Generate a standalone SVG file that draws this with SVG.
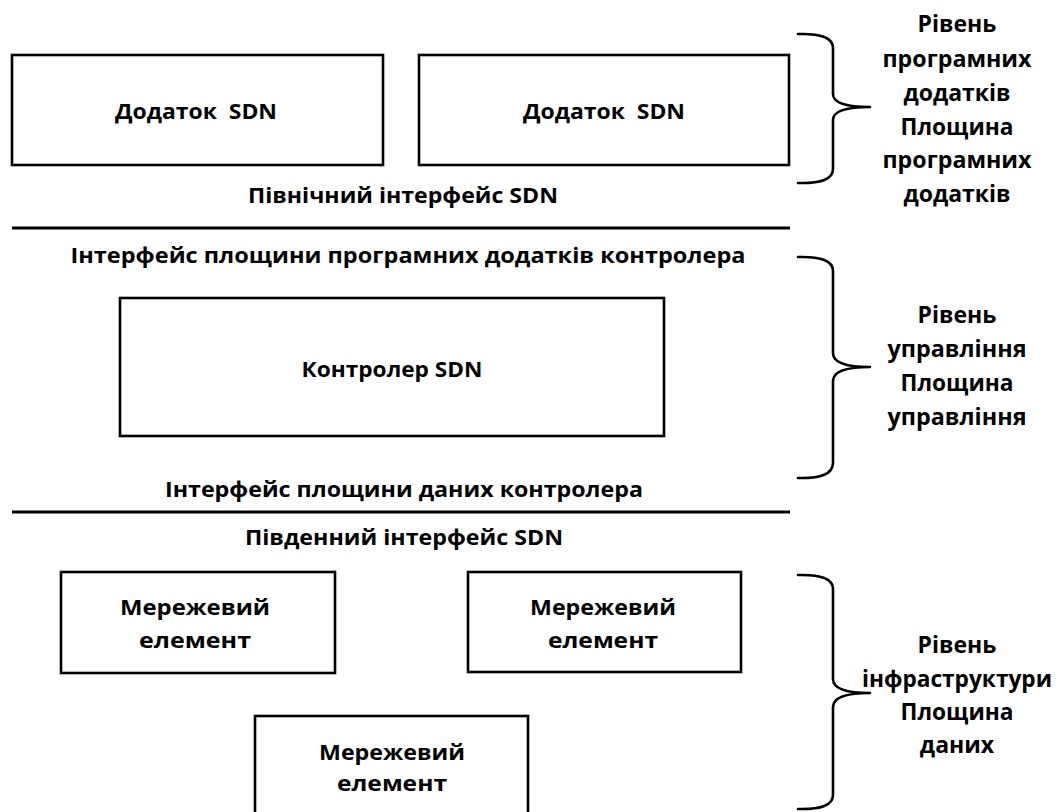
<svg xmlns="http://www.w3.org/2000/svg" width="1062" height="812" viewBox="0 0 1062 812">
<style>
.box{fill:#fff;stroke:#000;stroke-width:2.6}
.sep{stroke:#000;stroke-width:3}
.brace{fill:none;stroke:#000;stroke-width:2.6;stroke-linecap:round;stroke-linejoin:round}
text{font-family:"Open Sans","Noto Sans","Liberation Sans",sans-serif;font-weight:700;font-size:22px;fill:#000}
.c{text-anchor:middle}
.r{font-size:23px}
</style>
<rect width="1062" height="812" fill="#fff"/>
<g id="app1"><rect class="box" x="12" y="55" width="371" height="110"/><text x="196" y="119" class="c" textLength="162" lengthAdjust="spacingAndGlyphs">Додаток&#160; SDN</text></g>
<g id="app2"><rect class="box" x="419" y="55" width="370" height="110"/><text x="604" y="119" class="c" textLength="162" lengthAdjust="spacingAndGlyphs">Додаток&#160; SDN</text></g>
<g id="north"><text x="403" y="203" class="c" textLength="310" lengthAdjust="spacingAndGlyphs">Північний інтерфейс SDN</text></g>
<g id="cpi"><text x="408" y="263" class="c" textLength="675" lengthAdjust="spacingAndGlyphs">Інтерфейс площини програмних додатків контролера</text></g>
<g id="controller"><rect class="box" x="120" y="298" width="544" height="138"/><text x="392" y="377" class="c" textLength="181" lengthAdjust="spacingAndGlyphs">Контролер SDN</text></g>
<g id="cdpi"><text x="404" y="497" class="c" textLength="478" lengthAdjust="spacingAndGlyphs">Інтерфейс площини даних контролера</text></g>
<g id="south"><text x="404" y="545" class="c" textLength="318" lengthAdjust="spacingAndGlyphs">Південний інтерфейс SDN</text></g>
<g id="ne1"><rect class="box" x="61" y="572" width="274" height="101"/><text x="195" y="615" class="c" textLength="150" lengthAdjust="spacingAndGlyphs">Мережевий</text><text x="195" y="648" class="c" textLength="112" lengthAdjust="spacingAndGlyphs">елемент</text></g>
<g id="ne2"><rect class="box" x="468" y="572" width="273" height="100"/><text x="603" y="615" class="c" textLength="146" lengthAdjust="spacingAndGlyphs">Мережевий</text><text x="603" y="648" class="c" textLength="110" lengthAdjust="spacingAndGlyphs">елемент</text></g>
<g id="ne3"><rect class="box" x="255" y="716" width="273" height="110"/><text x="392" y="760" class="c" textLength="146" lengthAdjust="spacingAndGlyphs">Мережевий</text><text x="392" y="791" class="c" textLength="110" lengthAdjust="spacingAndGlyphs">елемент</text></g>
<g id="connectors">
<line class="sep" x1="12" y1="228" x2="790" y2="228"/>
<line class="sep" x1="12" y1="512" x2="790" y2="512"/>
<path class="brace" d="M798,34 Q833,33 833,48 V94 Q833,107 870,107 Q833,107 833,120 V169 Q833,184 798,183"/>
<path class="brace" d="M798,257 Q833,256 833,271 V353 Q833,367 870,367 Q833,367 833,381 V463 Q833,479 798,478"/>
<path class="brace" d="M798,575 Q833,574 833,589 V679 Q833,693 870,693 Q833,693 833,707 V795 Q833,810 798,809"/>
</g>
<g id="label-app">
<text x="957" y="32" class="c r">Рівень</text>
<text x="957" y="67" class="c r" textLength="149" lengthAdjust="spacingAndGlyphs">програмних</text>
<text x="957" y="101" class="c r">додатків</text>
<text x="957" y="135" class="c r" textLength="113" lengthAdjust="spacingAndGlyphs">Площина</text>
<text x="957" y="168" class="c r" textLength="149" lengthAdjust="spacingAndGlyphs">програмних</text>
<text x="957" y="202" class="c r">додатків</text>
</g>
<g id="label-ctrl">
<text x="957" y="323" class="c r">Рівень</text>
<text x="957" y="357" class="c r" textLength="139" lengthAdjust="spacingAndGlyphs">управління</text>
<text x="957" y="391" class="c r" textLength="113" lengthAdjust="spacingAndGlyphs">Площина</text>
<text x="957" y="425" class="c r" textLength="139" lengthAdjust="spacingAndGlyphs">управління</text>
</g>
<g id="label-infra">
<text x="957" y="653" class="c r">Рівень</text>
<text x="957" y="687" class="c r" textLength="190" lengthAdjust="spacingAndGlyphs">інфраструктури</text>
<text x="957" y="720" class="c r" textLength="113" lengthAdjust="spacingAndGlyphs">Площина</text>
<text x="957" y="753" class="c r">даних</text>
</g>
</svg>
